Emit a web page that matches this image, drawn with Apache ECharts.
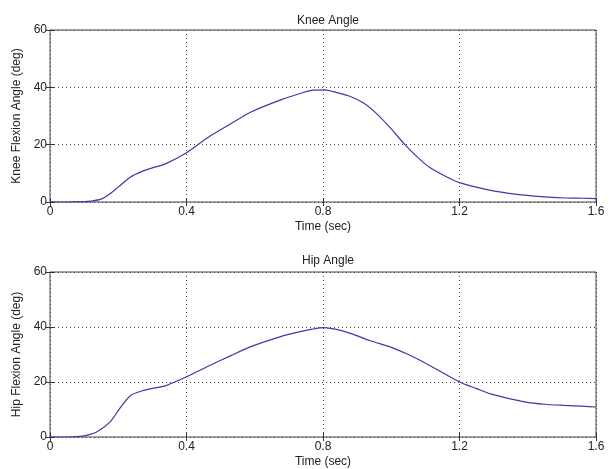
<!DOCTYPE html>
<html>
<head>
<meta charset="utf-8">
<script src="https://cdn.jsdelivr.net/npm/echarts@6/dist/echarts.min.js"></script>
<style>html,body{margin:0;padding:0;background:#fff}#c{width:611px;height:469px}</style>
</head>
<body>
<div id="c"></div>
<script>
// Knee angle (deg) vs time (sec)
var kneeTime  = [0, 0.05, 0.10, 0.12, 0.15, 0.173, 0.20, 0.236, 0.27, 0.30, 0.338, 0.40, 0.464, 0.53, 0.589, 0.68, 0.74, 0.771, 0.805, 0.839, 0.88, 0.919, 0.96, 1.0, 1.04, 1.08, 1.113, 1.16, 1.202, 1.284, 1.34, 1.398, 1.46, 1.512, 1.56, 1.6];
var kneeAngle = [0, 0, 0.1, 0.3, 1.0, 2.6, 5.2, 8.75, 10.7, 11.9, 13.3, 17.2, 22.6, 27.3, 31.4, 35.8, 38.1, 39.0, 39.1, 38.2, 36.8, 34.5, 30.5, 25.5, 20.0, 15.3, 12.0, 8.9, 6.65, 4.2, 3.1, 2.3, 1.7, 1.4, 1.3, 1.2];
// Hip angle (deg) vs time (sec)
var hipTime  = [0, 0.05, 0.088, 0.11, 0.138, 0.177, 0.205, 0.236, 0.27, 0.30, 0.338, 0.40, 0.471, 0.53, 0.585, 0.676, 0.73, 0.768, 0.802, 0.836, 0.88, 0.939, 1.0, 1.05, 1.11, 1.2, 1.25, 1.293, 1.394, 1.45, 1.508, 1.56, 1.6];
var hipAngle = [0, 0, 0.2, 0.7, 1.9, 5.6, 10.5, 15.1, 16.8, 17.7, 18.6, 21.9, 26.2, 29.6, 32.7, 36.5, 38.2, 39.2, 39.8, 39.2, 37.7, 35.0, 32.6, 30.0, 26.2, 20.0, 17.6, 15.6, 12.7, 11.9, 11.5, 11.2, 10.9];
var xTicks = [0, 0.4, 0.8, 1.2, 1.6];
var yTicks = [0, 20, 40, 60];
var titles = ['Knee Angle', 'Hip Angle'];
var yNames = ['Knee Flexion Angle (deg)', 'Hip Flexion Angle (deg)'];
var xName = 'Time (sec)';

function pairs(xs, ys) { return xs.map(function (x, i) { return [x, ys[i]]; }); }

var FONT = '"Liberation Sans Narrow", "Liberation Sans", Arial, sans-serif';
var grids = [
  {left: 50, width: 546, top: 30, height: 172},
  {left: 50, width: 546, top: 272, height: 166}
];
var xAxes = [], yAxes = [], series = [], titleOpts = [];
grids.forEach(function (g, i) {
  g.show = true; g.borderColor = '#444'; g.borderWidth = 1; g.backgroundColor = '#fff';
  var common = {
    gridIndex: i, type: 'value',
    axisLine: {show: false},
    axisTick: {show: true, inside: true, length: 4, lineStyle: {color: '#333'}},
    splitLine: {show: false}
  };
  xAxes.push(Object.assign({}, common, {
    position: 'bottom', min: xTicks[0], max: xTicks[xTicks.length - 1], interval: 0.4,
    name: xName, nameLocation: 'middle', nameGap: 19,
    nameTextStyle: {fontFamily: FONT, fontSize: 12, color: '#222'},
    axisLabel: {fontFamily: FONT, fontSize: 12, color: '#222', margin: 4,
      formatter: function (v) { return v === 0 ? '0' : v.toFixed(1); }},
    splitLine: {show: true, lineStyle: {color: '#444', type: [1, 3], width: 1}}
  }));
  xAxes.push(Object.assign({}, common, {
    position: 'top', min: xTicks[0], max: xTicks[xTicks.length - 1], interval: 0.4,
    axisLabel: {show: false}
  }));
  yAxes.push(Object.assign({}, common, {
    position: 'left', min: yTicks[0], max: yTicks[yTicks.length - 1], interval: 20,
    name: yNames[i], nameLocation: 'middle', nameGap: 27,
    nameTextStyle: {fontFamily: FONT, fontSize: 12, color: '#222'},
    axisLabel: {fontFamily: FONT, fontSize: 12, color: '#222', margin: 3},
    splitLine: {show: true, lineStyle: {color: '#444', type: [1, 3], width: 1}}
  }));
  yAxes.push(Object.assign({}, common, {
    position: 'right', min: yTicks[0], max: yTicks[yTicks.length - 1], interval: 20,
    axisLabel: {show: false}
  }));
  titleOpts.push({
    text: titles[i], left: 323, textAlign: 'center', top: i === 0 ? 10 : 250,
    textStyle: {fontFamily: FONT, fontSize: 12, fontWeight: 'normal', color: '#222'}
  });
});
series.push({type: 'line', xAxisIndex: 0, yAxisIndex: 0, data: pairs(kneeTime, kneeAngle),
  smooth: 0.25, showSymbol: false, lineStyle: {color: '#3b3ba8', width: 1.2}, animation: false});
series.push({type: 'line', xAxisIndex: 2, yAxisIndex: 2, data: pairs(hipTime, hipAngle),
  smooth: 0.25, showSymbol: false, lineStyle: {color: '#3b3ba8', width: 1.2}, animation: false});

var chart = echarts.init(document.getElementById('c'), null, {renderer: 'canvas'});
chart.setOption({
  animation: false,
  backgroundColor: '#fff',
  title: titleOpts,
  grid: grids,
  xAxis: xAxes,
  yAxis: yAxes,
  series: series
});
</script>
</body>
</html>
